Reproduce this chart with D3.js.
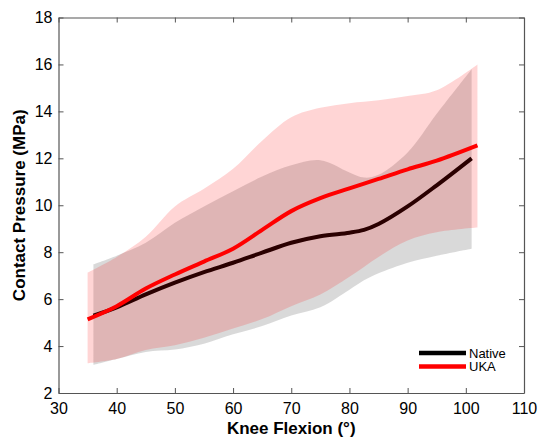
<!DOCTYPE html>
<html>
<head>
<meta charset="utf-8">
<script src="https://cdn.jsdelivr.net/npm/d3@7"></script>
<style>
  body { margin: 0; background: #fff; }
  svg { font-family: Arial, "Liberation Sans", sans-serif; }
</style>
</head>
<body>
<svg id="chart" width="539" height="440"></svg>
<script>
// Native knee
const nativeFlexion = [36, 40, 45, 50, 55, 60, 65, 70, 75, 80, 82.5, 85, 90, 95, 101];
const nativeMean  = [5.3, 5.65, 6.2, 6.7, 7.15, 7.55, 7.98, 8.4, 8.68, 8.83, 8.95, 9.2, 9.95, 10.85, 12.0];
const nativeUpper = [7.48, 7.85, 8.4, 9.25, 9.95, 10.6, 11.22, 11.7, 11.92, 11.4, 11.18, 11.3, 12.25, 13.9, 15.8];
const nativeLower = [3.2, 3.45, 3.75, 3.85, 4.1, 4.5, 4.85, 5.3, 5.65, 6.4, 6.8, 7.1, 7.55, 7.85, 8.15];

// UKA
const ukaFlexion = [35, 40, 45, 50, 55, 60, 65, 70, 75, 80, 85, 90, 95, 102];
const ukaMean  = [5.14, 5.7, 6.45, 7.05, 7.6, 8.15, 8.95, 9.75, 10.3, 10.72, 11.12, 11.53, 11.9, 12.55];
const ukaUpper = [7.13, 7.8, 8.66, 9.95, 10.7, 11.55, 12.75, 13.75, 14.15, 14.35, 14.47, 14.65, 14.9, 16.0];
const ukaLower = [3.27, 3.45, 3.83, 4.03, 4.35, 4.75, 5.15, 5.7, 6.2, 6.95, 7.8, 8.5, 8.85, 9.05];

const xTicks = [30, 40, 50, 60, 70, 80, 90, 100, 110];
const yTicks = [2, 4, 6, 8, 10, 12, 14, 16, 18];
const legendLabels = ['Native', 'UKA'];

const svg = d3.select('#chart');
const plotLeft = 58.5, plotRight = 524, plotTop = 17.5, plotBottom = 393;

const x = d3.scaleLinear().domain([30, 110]).range([plotLeft, plotRight]);
const y = d3.scaleLinear().domain([2, 18]).range([plotBottom, plotTop]);

const rows = (xs, m, lo, hi) => xs.map((d, i) => ({x: d, m: m[i], lo: lo[i], hi: hi[i]}));
const nativeData = rows(nativeFlexion, nativeMean, nativeLower, nativeUpper);
const ukaData = rows(ukaFlexion, ukaMean, ukaLower, ukaUpper);

const area = d3.area().curve(d3.curveCatmullRom)
  .x(d => x(d.x)).y0(d => y(d.lo)).y1(d => y(d.hi));
const line = d3.line().curve(d3.curveCatmullRom)
  .x(d => x(d.x)).y(d => y(d.m));

// grey band, black line, then the translucent pink band over both
svg.append('path').attr('d', area(nativeData))
  .attr('fill', '#808080').attr('fill-opacity', 0.3);
svg.append('path').attr('d', line(nativeData))
  .attr('fill', 'none').attr('stroke', '#000').attr('stroke-width', 4);
svg.append('path').attr('d', area(ukaData))
  .attr('fill', '#ff0000').attr('fill-opacity', 0.165);
svg.append('path').attr('d', line(ukaData))
  .attr('fill', 'none').attr('stroke', '#ff0000').attr('stroke-width', 4);

// axes box with inward ticks
const axisColor = '#555';
const styleAxis = g => {
  g.select('.domain').attr('stroke', axisColor).attr('stroke-width', 1.2);
  g.selectAll('.tick line').attr('stroke', axisColor);
  g.selectAll('.tick text').attr('fill', '#000').attr('font-size', 16);
};

svg.append('g').attr('transform', `translate(0,${plotBottom})`)
  .call(d3.axisBottom(x).tickValues(xTicks).tickSizeInner(-5).tickSizeOuter(0).tickPadding(10))
  .call(styleAxis);
svg.append('g').attr('transform', `translate(${plotLeft},0)`)
  .call(d3.axisLeft(y).tickValues(yTicks).tickSizeInner(-5).tickSizeOuter(0).tickPadding(6))
  .call(styleAxis);
svg.append('g').attr('transform', `translate(0,${plotTop})`)
  .call(d3.axisTop(x).tickValues(xTicks).tickSizeInner(-5).tickSizeOuter(0).tickFormat(''))
  .call(styleAxis);
svg.append('g').attr('transform', `translate(${plotRight},0)`)
  .call(d3.axisRight(y).tickValues(yTicks).tickSizeInner(-5).tickSizeOuter(0).tickFormat(''))
  .call(styleAxis);

// axis titles
svg.append('text')
  .attr('x', (plotLeft + plotRight) / 2).attr('y', 434)
  .attr('text-anchor', 'middle').attr('font-weight', 'bold').attr('font-size', 17)
  .text('Knee Flexion (°)');
svg.append('text')
  .attr('transform', `translate(25,${(plotTop + plotBottom) / 2}) rotate(-90)`)
  .attr('text-anchor', 'middle').attr('font-weight', 'bold').attr('font-size', 17)
  .text('Contact Pressure (MPa)');

// legend
const legend = svg.append('g').attr('transform', 'translate(419,353)');
const legendColors = ['#000', '#ff0000'];
legendLabels.forEach((name, i) => {
  legend.append('line')
    .attr('x1', 0).attr('x2', 47).attr('y1', i * 13.5).attr('y2', i * 13.5)
    .attr('stroke', legendColors[i]).attr('stroke-width', 4.5);
  legend.append('text')
    .attr('x', 50).attr('y', i * 13.5 + 4.5)
    .attr('font-size', 13).attr('fill', '#000')
    .text(name);
});
</script>
</body>
</html>
